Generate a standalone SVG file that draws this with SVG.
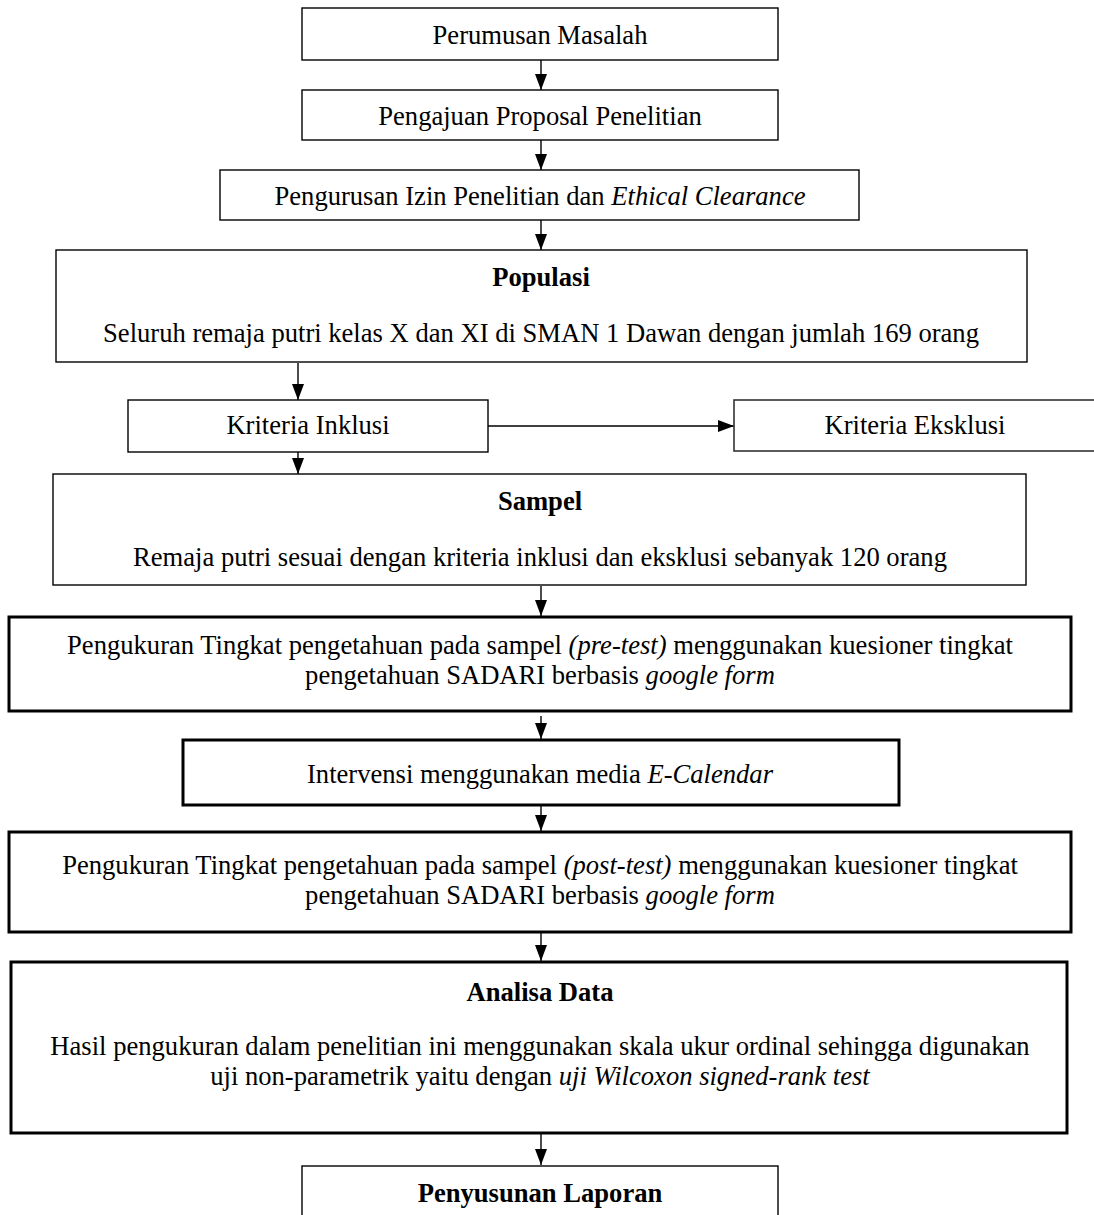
<svg xmlns="http://www.w3.org/2000/svg" width="1094" height="1215" viewBox="0 0 1094 1215">
<style>
.b{fill:#fff;stroke:#000;stroke-width:1.4}
.bg{fill:#fff;stroke:#333;stroke-width:1.6}
.bt{fill:#fff;stroke:#000;stroke-width:3}
.t{font-family:"Liberation Serif","Times New Roman",serif;font-size:26.6px;fill:#000;text-anchor:middle}
.bd{font-weight:bold}
.c{stroke:#000;stroke-width:1.4;fill:none;marker-end:url(#ah)}
</style>
<defs>
<marker id="ah" markerUnits="userSpaceOnUse" markerWidth="16" markerHeight="12" refX="16" refY="6" orient="auto" viewBox="0 0 16 12">
<path d="M0,0 L16,6 L0,12 Z" fill="#000"/>
</marker>
</defs>
<rect width="1094" height="1215" fill="#fff"/>
<g id="connectors">
<line class="c" x1="541" y1="60" x2="541" y2="90"/>
<line class="c" x1="541" y1="140" x2="541" y2="170"/>
<line class="c" x1="541" y1="220" x2="541" y2="250"/>
<line class="c" x1="298" y1="363" x2="298" y2="400"/>
<line class="c" x1="488" y1="426" x2="734" y2="426"/>
<line class="c" x1="298" y1="452" x2="298" y2="474"/>
<line class="c" x1="541" y1="586" x2="541" y2="616"/>
<line class="c" x1="541" y1="716" x2="541" y2="739"/>
<line class="c" x1="541" y1="806" x2="541" y2="831"/>
<line class="c" x1="541" y1="933" x2="541" y2="961"/>
<line class="c" x1="541" y1="1134" x2="541" y2="1165"/>
</g>
<g id="n1"><rect class="b" x="302" y="8" width="476" height="52"/><text class="t" x="540" y="44">Perumusan Masalah</text></g>
<g id="n2"><rect class="b" x="302" y="90" width="476" height="50"/><text class="t" x="540" y="125">Pengajuan Proposal Penelitian</text></g>
<g id="n3"><rect class="b" x="220" y="170" width="639" height="50"/><text class="t" x="540" y="205">Pengurusan Izin Penelitian dan <tspan font-style="italic">Ethical Clearance</tspan></text></g>
<g id="n4"><rect class="b" x="56" y="250" width="971" height="112"/><text class="t bd" x="541" y="286">Populasi</text><text class="t" x="541" y="342">Seluruh remaja putri kelas X dan XI di SMAN 1 Dawan dengan jumlah 169 orang</text></g>
<g id="n5"><rect class="b" x="128" y="400" width="360" height="52"/><text class="t" x="308" y="434">Kriteria Inklusi</text></g>
<g id="n6"><rect class="bg" x="734" y="400" width="380" height="51"/><text class="t" x="915" y="434">Kriteria Eksklusi</text></g>
<g id="n7"><rect class="b" x="53" y="474" width="973" height="111"/><text class="t bd" x="540" y="510">Sampel</text><text class="t" x="540" y="566">Remaja putri sesuai dengan kriteria inklusi dan eksklusi sebanyak 120 orang</text></g>
<g id="n8"><rect class="bt" x="9" y="617" width="1062" height="94"/><text class="t" x="540" y="654">Pengukuran Tingkat pengetahuan pada sampel <tspan font-style="italic">(pre-test)</tspan> menggunakan kuesioner tingkat</text><text class="t" x="540" y="684">pengetahuan SADARI berbasis <tspan font-style="italic">google form</tspan></text></g>
<g id="n9"><rect class="bt" x="183" y="740" width="716" height="65"/><text class="t" x="540" y="783">Intervensi menggunakan media <tspan font-style="italic">E-Calendar</tspan></text></g>
<g id="n10"><rect class="bt" x="9" y="832" width="1062" height="100"/><text class="t" x="540" y="874">Pengukuran Tingkat pengetahuan pada sampel <tspan font-style="italic">(post-test)</tspan> menggunakan kuesioner tingkat</text><text class="t" x="540" y="904">pengetahuan SADARI berbasis <tspan font-style="italic">google form</tspan></text></g>
<g id="n11"><rect class="bt" x="11" y="962" width="1056" height="171"/><text class="t bd" x="540" y="1001">Analisa Data</text><text class="t" x="540" y="1055">Hasil pengukuran dalam penelitian ini menggunakan skala ukur ordinal sehingga digunakan</text><text class="t" x="540" y="1085">uji non-parametrik yaitu dengan <tspan font-style="italic">uji Wilcoxon signed-rank test</tspan></text></g>
<g id="n12"><rect class="b" x="302" y="1166" width="476" height="80"/><text class="t bd" x="540" y="1202">Penyusunan Laporan</text></g>
</svg>
